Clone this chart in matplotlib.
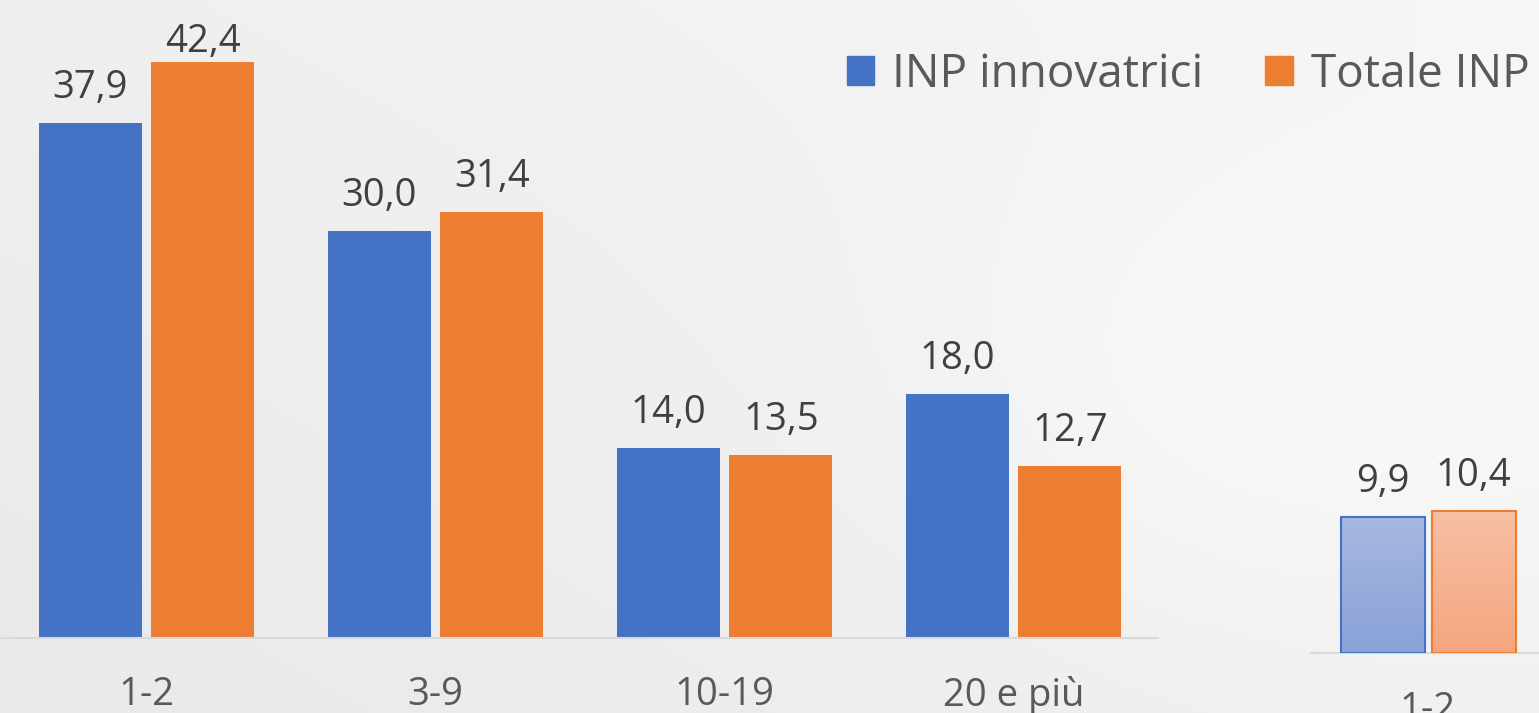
import numpy as np
import matplotlib.pyplot as plt
from matplotlib.patches import Patch
from matplotlib.colors import LinearSegmentedColormap

# Data
categories = ['1-2', '3-9', '10-19', '20 e più']
inp_innovatrici = [37.9, 30.0, 14.0, 18.0]
totale_inp = [42.4, 31.4, 13.5, 12.7]

# second (partially visible) chart on the right
categories_2 = ['1-2']
inp_innovatrici_2 = [9.9]
totale_inp_2 = [10.4]

BLUE = '#4472c4'
ORANGE = '#ed7d31'
VAL_COLOR = '#404040'
TICK_COLOR = '#595959'
FONT = 'Open Sans'

W, H = 1539, 713
fig = plt.figure(figsize=(W / 100, H / 100), dpi=100)

# soft gray background gradient
bg = fig.add_axes([0, 0, 1, 1], zorder=-10)
yy, xx = np.mgrid[0:1:200j, 0:1:400j]
grad = 0.915 + 0.05 * (0.55 * xx + 0.45 * yy)
spot = 0.025 * np.exp(-(((xx - 0.85) / 0.25) ** 2 + ((yy - 0.45) / 0.35) ** 2))
grad = np.clip(grad + spot, 0, 1)
bg.imshow(np.dstack([grad] * 3), origin='lower', extent=[0, 1, 0, 1], aspect='auto')
bg.axis('off')


def fmt(v):
    return f'{v:.1f}'.replace('.', ',')


def add_label(ax, r, v, px_per_unit, ymax_label):
    # label centred ~35 px above the bar, kept inside the plot area
    y = min(v + 35 / px_per_unit, ymax_label)
    ax.text(r.get_x() + r.get_width() / 2, y, fmt(v), ha='center', va='center',
            fontsize=27.5, color=VAL_COLOR, fontfamily=FONT)


def style_axis(ax):
    for s in ['top', 'right', 'left']:
        ax.spines[s].set_visible(False)
    ax.spines['bottom'].set_color('#d9d9d9')
    ax.spines['bottom'].set_linewidth(1.5)
    ax.set_yticks([])
    ax.patch.set_visible(False)
    ax.tick_params(axis='x', length=0, pad=27.5, labelsize=27.5, labelcolor=TICK_COLOR)
    for lab in ax.get_xticklabels():
        lab.set_fontfamily(FONT)


# Main chart
ax = fig.add_axes([2 / W, 75 / H, 1156 / W, 638 / H])
x = np.arange(len(categories))
bw = 0.356
off = 0.195
b1 = ax.bar(x - off, inp_innovatrici, bw, color=BLUE)
b2 = ax.bar(x + off, totale_inp, bw, color=ORANGE)
for bars, vals in [(b1, inp_innovatrici), (b2, totale_inp)]:
    for r, v in zip(bars, vals):
        add_label(ax, r, v, 13.58, 43.9)
ax.set_xlim(-0.5, 3.5)
ax.set_ylim(0, 638 / 13.58)
ax.set_xticks(x, categories)
style_axis(ax)

# Second chart, cut by the right edge
ax2 = fig.add_axes([1311 / W, 60 / H, 300 / W, 653 / H])
x2 = np.arange(len(categories_2))
bw2 = 84 / 300
off2 = 45.5 / 300
grads = [(inp_innovatrici_2, -off2, BLUE, ['#8aa2d9', '#a7b7e0']),
         (totale_inp_2, off2, ORANGE, ['#f5a67f', '#f7bfa4'])]
for vals, o, edge, cols in grads:
    bars = ax2.bar(x2 + o, vals, bw2, color='none', edgecolor=edge, linewidth=1.5, zorder=3)
    cmap = LinearSegmentedColormap.from_list('g', cols)
    for r, v in zip(bars, vals):
        im = ax2.imshow(np.linspace(0, 1, 50).reshape(-1, 1), cmap=cmap, origin='lower',
                        extent=[r.get_x(), r.get_x() + r.get_width(), 0, v],
                        aspect='auto', zorder=2)
        im.set_clip_path(r)
        add_label(ax2, r, v, 13.7, 45.0)
ax2.set_xlim(-0.39, 0.61)
ax2.set_ylim(0, 653 / 13.7)
ax2.set_xticks(x2, categories_2)
style_axis(ax2)

# Legend
handles = [Patch(color=BLUE, label='INP innovatrici'), Patch(color=ORANGE, label='Totale INP')]
fig.legend(handles=handles, loc='upper right', bbox_to_anchor=(1.021, 0.985), ncol=2,
           frameon=False, handlelength=0.6, handleheight=0.6, handletextpad=0.4,
           columnspacing=1.35, prop={'family': FONT, 'size': 33}, labelcolor=TICK_COLOR)

fig.savefig('out.png', dpi=100, facecolor='#efefef')
